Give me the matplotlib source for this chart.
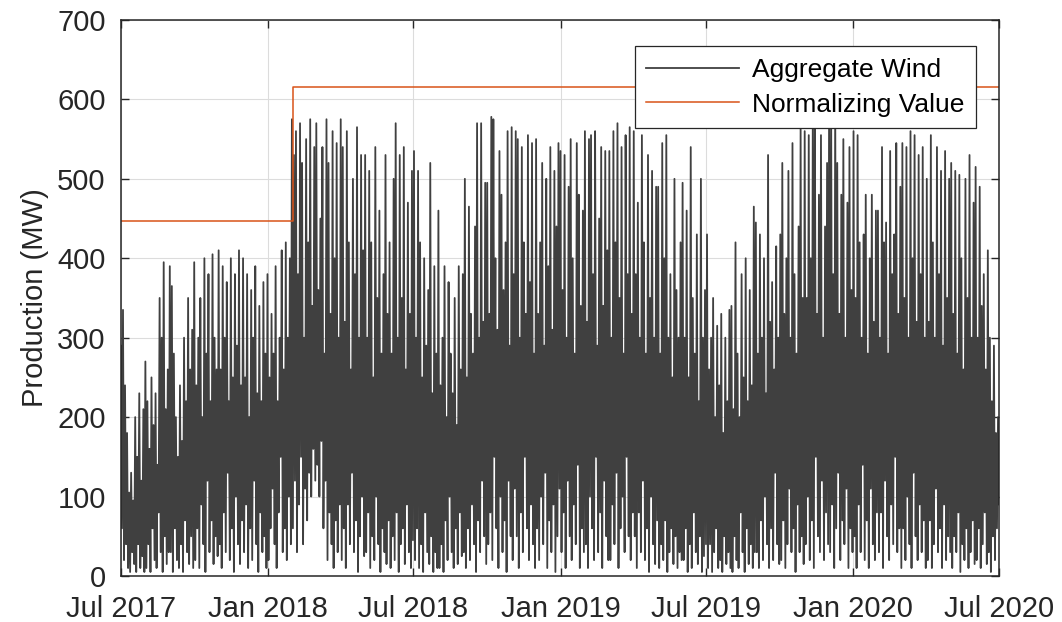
import numpy as np
import pandas as pd
import matplotlib
matplotlib.use('Agg')
import matplotlib.pyplot as plt
import matplotlib.dates as mdates

plt.rcParams['font.family'] = ['Liberation Sans', 'DejaVu Sans']

# Aggregate wind production (MW): alternating highs / lows, one row per month
# Jul 2017 ... Jun 2020
wind_peaks = [
    [290, 335, 240, 180, 105, 130, 95, 200, 150, 230, 120, 210],   # Jul 2017
    [270, 220, 160, 250, 190, 230, 140, 350, 300, 395, 210, 260],
    [390, 365, 280, 200, 150, 240, 170, 300, 220, 350, 260, 310],
    [395, 240, 300, 350, 200, 400, 280, 380, 220, 405, 300, 260],
    [410, 260, 390, 300, 370, 220, 400, 250, 380, 290, 410, 240],
    [400, 250, 380, 200, 360, 300, 390, 230, 340, 220, 370, 280],
    [380, 250, 330, 280, 390, 220, 300, 410, 260, 420, 300, 400],   # Jan 2018
    [575, 530, 560, 380, 570, 520, 300, 550, 420, 575, 340, 540],
    [570, 360, 450, 540, 280, 575, 520, 330, 560, 400, 545, 300],
    [575, 540, 320, 560, 420, 260, 500, 380, 565, 300, 530, 410],
    [530, 300, 510, 420, 250, 540, 350, 460, 280, 380, 530, 330],
    [420, 280, 500, 570, 300, 530, 350, 540, 260, 470, 330, 510],
    [535, 300, 510, 420, 250, 400, 290, 360, 520, 230, 390, 280],   # Jul 2018
    [460, 240, 300, 390, 200, 370, 280, 230, 350, 190, 390, 260],
    [380, 500, 250, 465, 330, 280, 440, 570, 300, 570, 320, 495],
    [495, 330, 578, 575, 400, 310, 535, 480, 360, 420, 560, 290],
    [565, 380, 560, 550, 300, 540, 420, 330, 555, 370, 545, 280],
    [550, 330, 420, 520, 290, 500, 390, 540, 310, 510, 440, 545],
    [535, 360, 530, 300, 490, 550, 400, 280, 545, 480, 340, 460],   # Jan 2019
    [560, 320, 550, 555, 380, 560, 290, 450, 540, 340, 535, 410],
    [535, 300, 560, 420, 570, 350, 540, 280, 555, 380, 565, 330],
    [560, 380, 470, 300, 555, 420, 280, 530, 350, 510, 300, 490],
    [490, 280, 545, 400, 555, 300, 380, 250, 500, 360, 300, 420],
    [495, 300, 460, 250, 540, 350, 280, 430, 220, 500, 300, 360],
    [430, 260, 300, 350, 200, 315, 240, 330, 180, 300, 220, 335],   # Jul 2019
    [340, 210, 420, 280, 200, 380, 250, 400, 220, 360, 240, 465],
    [445, 280, 430, 300, 400, 230, 530, 320, 370, 260, 415, 300],
    [430, 520, 330, 400, 510, 300, 545, 380, 280, 440, 565, 350],
    [560, 350, 555, 400, 600, 590, 330, 480, 555, 300, 440, 520],
    [600, 590, 380, 600, 520, 330, 480, 550, 300, 470, 540, 360],
    [560, 350, 555, 420, 300, 430, 480, 280, 400, 480, 320, 460],   # Jan 2020
    [460, 300, 540, 420, 445, 280, 535, 380, 430, 545, 330, 490],
    [545, 350, 540, 300, 560, 400, 555, 320, 530, 380, 540, 300],
    [500, 320, 555, 420, 300, 540, 380, 510, 290, 535, 350, 500],
    [520, 330, 510, 280, 505, 400, 260, 500, 350, 530, 300, 470],
    [515, 300, 490, 340, 380, 260, 410, 300, 220, 290, 180, 200],
]
wind_troughs = [
    [60, 20, 40, 10, 5, 30, 15, 5, 40, 10, 25, 5],
    [10, 40, 5, 60, 20, 10, 80, 30, 5, 50, 15, 30],
    [30, 5, 60, 20, 10, 40, 5, 70, 30, 15, 50, 10],
    [20, 60, 10, 90, 40, 5, 120, 30, 70, 15, 50, 25],
    [40, 10, 80, 30, 130, 20, 60, 5, 100, 40, 15, 70],
    [30, 90, 10, 60, 20, 120, 40, 5, 80, 30, 50, 10],
    [20, 60, 110, 40, 10, 80, 150, 30, 60, 20, 100, 40],
    [60, 120, 30, 90, 150, 40, 110, 70, 130, 100, 160, 120],
    [140, 100, 170, 60, 120, 20, 80, 40, 10, 70, 30, 90],
    [20, 60, 10, 90, 40, 130, 30, 70, 5, 50, 100, 25],
    [30, 80, 10, 50, 20, 100, 40, 5, 60, 30, 15, 70],
    [10, 50, 20, 80, 5, 40, 60, 15, 90, 30, 10, 45],
    [20, 60, 10, 40, 5, 80, 30, 15, 50, 5, 30, 10],
    [10, 40, 5, 70, 20, 100, 30, 10, 60, 15, 80, 25],
    [30, 10, 60, 20, 90, 40, 5, 70, 30, 120, 50, 15],
    [40, 80, 20, 150, 60, 10, 100, 30, 70, 5, 120, 50],
    [20, 110, 50, 10, 80, 30, 150, 60, 20, 90, 40, 10],
    [60, 20, 100, 40, 130, 10, 70, 30, 90, 5, 50, 110],
    [30, 80, 10, 120, 50, 20, 90, 40, 140, 10, 60, 30],
    [40, 10, 100, 60, 20, 150, 30, 80, 10, 120, 50, 20],
    [20, 90, 40, 130, 10, 60, 100, 30, 150, 50, 20, 80],
    [50, 10, 80, 30, 120, 20, 60, 5, 100, 40, 15, 70],
    [10, 40, 20, 70, 5, 30, 60, 15, 50, 10, 30, 20],
    [20, 60, 5, 40, 10, 80, 30, 15, 50, 5, 25, 40],
    [10, 40, 5, 30, 60, 10, 20, 5, 50, 15, 30, 10],
    [5, 50, 20, 10, 80, 30, 5, 60, 15, 40, 10, 30],
    [30, 10, 70, 20, 100, 40, 10, 60, 20, 130, 40, 15],
    [20, 70, 10, 40, 110, 30, 60, 5, 90, 30, 50, 15],
    [40, 100, 20, 70, 10, 150, 50, 30, 120, 20, 80, 40],
    [30, 90, 10, 60, 130, 20, 70, 40, 110, 10, 60, 30],
    [50, 10, 90, 30, 140, 20, 70, 10, 110, 40, 20, 80],
    [30, 80, 10, 120, 50, 20, 90, 40, 150, 30, 60, 10],
    [60, 20, 100, 40, 10, 130, 50, 20, 90, 30, 70, 10],
    [20, 70, 10, 40, 110, 30, 60, 10, 90, 20, 50, 30],
    [10, 50, 30, 80, 5, 40, 20, 60, 10, 30, 70, 15],
    [20, 60, 10, 40, 80, 15, 30, 5, 50, 20, 60, 90],
]

# Normalizing value (step)
norm_dates = ['2017-07-01', '2018-02-01', '2020-07-01']
norm_values = [447, 616, 616]

# interleave highs and lows into one series
wind = np.column_stack([np.ravel(wind_peaks), np.ravel(wind_troughs)]).ravel()
times = pd.date_range('2017-07-01', '2020-07-01', periods=len(wind))

fig = plt.figure(figsize=(10.62, 6.22), dpi=100)
ax = fig.add_axes([0.1139, 0.074, 0.8268, 0.8939])

ax.plot(times, wind, color='#404040', lw=1.3, label='Aggregate Wind')
ax.plot(pd.to_datetime(norm_dates), norm_values, color='#D95319', lw=1.1,
        drawstyle='steps-post', label='Normalizing Value')

ax.set_xlim(pd.Timestamp('2017-07-01'), pd.Timestamp('2020-07-01'))
ax.set_ylim(0, 700)
ax.set_yticks(range(0, 701, 100))
ax.xaxis.set_major_locator(mdates.MonthLocator(bymonth=[1, 7]))
ax.xaxis.set_major_formatter(mdates.DateFormatter('%b %Y'))

ax.grid(True, color='#dcdcdc', lw=0.8)
ax.set_axisbelow(True)
ax.tick_params(direction='in', length=6, width=1, labelsize=21, colors='#262626',
               top=True, right=True)
ax.tick_params(axis='x', pad=14)
ax.tick_params(axis='y', pad=11)
for s in ax.spines.values():
    s.set_color('#262626')
    s.set_linewidth(1.1)

ax.set_ylabel('Production (MW)', fontsize=21, color='#262626', labelpad=6)

leg = ax.legend(loc='upper right', bbox_to_anchor=(0.974, 0.953), borderaxespad=0,
                fontsize=19, fancybox=False, framealpha=1, edgecolor='#262626',
                handlelength=3.5, borderpad=0.45, labelspacing=0.4,
                handletextpad=0.5)
leg.get_frame().set_linewidth(0.9)

fig.savefig('out.png', dpi=100)
